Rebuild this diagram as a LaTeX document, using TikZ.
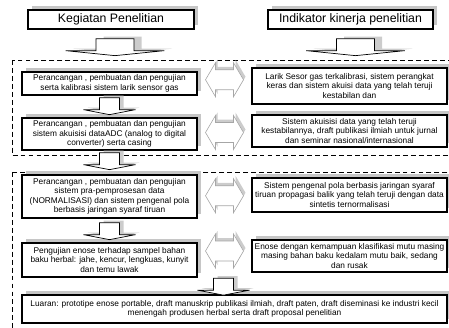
\documentclass[tikz,border=0pt]{standalone}
\usepackage{fontspec}
\setmainfont{Liberation Sans}
\usetikzlibrary{calc,shadows}

\tikzset{
  kotak/.style={draw,line width=1.1pt,fill=white,align=center,inner sep=1pt,
    drop shadow={shadow xshift=3.4pt,shadow yshift=3.4pt,fill=gray!45,opacity=1},
    font=\fontsize{7.1}{8}\selectfont},
  judul/.style={kotak,font=\fontsize{10.5}{12}\selectfont},
  grup/.style={draw,dash pattern=on 4.2pt off 2.6pt,line width=0.85pt},
  panahbawah/.pic={
    \fill[gray!40,shift={(4,-2)}] (-10,0) -- (-10,12) -- (-26,12) -- (0,17) -- (26,12) -- (10,12) -- (10,0) -- cycle;
    \draw[fill=white,line width=0.6pt] (-10,0) -- (-10,12) -- (-26,12) -- (0,17) -- (26,12) -- (10,12) -- (10,0) -- cycle;
  },
  panahdua/.pic={
    \fill[gray!40,shift={(2,-3)}] (-19,0) -- (-9,-17) -- (-9,-10) -- (9,-10) -- (9,-17) -- (19,0) -- (9,17) -- (9,10) -- (-9,10) -- (-9,17) -- cycle;
    \draw[gray!70,fill=white,line width=0.5pt] (-19,0) -- (-9,-17) -- (-9,-10) -- (9,-10) -- (9,-17) -- (19,0) -- (9,17) -- (9,10) -- (-9,10) -- (-9,17) -- cycle;
  }
}

\begin{document}
\begin{tikzpicture}[x=0.03cm,y=-0.03cm]
\useasboundingbox (0,0) rectangle (449,327);
\clip (0,0) rectangle (449,327);

% kelompok tahap
\draw[grup] (12,60) rectangle (460,155);
\draw[grup] (12,172) rectangle (460,340);

% judul kolom
\node[judul,minimum width=4.98cm,minimum height=0.57cm] (hkiri) at (111,19.5) {Kegiatan Penelitian};
\node[judul,minimum width=4.95cm,minimum height=0.57cm] (hkanan) at (350.5,19.5) {Indikator kinerja penelitian};

% kegiatan
\node[kotak,minimum width=5.25cm,minimum height=0.69cm] (a1) at (109.5,83.5) {Perancangan , pembuatan dan pengujian\\ serta kalibrasi sistem larik  sensor gas};
\node[kotak,minimum width=5.25cm,minimum height=0.96cm] (a2) at (109.5,134) {Perancangan , pembuatan dan pengujian\\ sistem akuisisi dataADC (analog to digital\\ converter) serta casing};
\node[kotak,minimum width=5.25cm,minimum height=1.29cm] (a3) at (109.5,196.5) {Perancangan , pembuatan dan pengujian\\ sistem pra-pemprosesan data\\ (NORMALISASI) dan sistem pengenal pola\\ berbasis jaringan syaraf tiruan};
\node[kotak,minimum width=5.25cm,minimum height=1.02cm] (a4) at (109.5,260) {Pengujian enose terhadap sampel bahan\\ baku herbal: jahe, kencur, lengkuas, kunyit\\ dan temu lawak};

% indikator
\node[kotak,minimum width=5.85cm,minimum height=1.08cm] (b1) at (349.5,86) {Larik Sesor gas terkalibrasi, sistem perangkat\\ keras dan sistem akuisi data yang telah teruji\\ kestabilan dan};
\node[kotak,minimum width=5.85cm,minimum height=0.96cm] (b2) at (349.5,131) {Sistem akuisisi data yang  telah teruji\\ kestabilannya, draft publikasi ilmiah untuk jurnal\\ dan seminar nasional/internasional};
\node[kotak,minimum width=5.85cm,minimum height=1.02cm] (b3) at (349.5,195) {Sistem pengenal pola berbasis jaringan syaraf\\ tiruan propagasi balik yang telah teruji dengan data\\ sintetis ternormalisasi};
\node[kotak,minimum width=5.85cm,minimum height=0.96cm] (b4) at (349.5,256) {Enose dengan kemampuan klasifikasi mutu masing\\ masing bahan baku  kedalam mutu baik, sedang\\ dan rusak};

\node[kotak,minimum width=12.75cm,minimum height=0.84cm] (luaran) at (234.5,309) {Luaran: prototipe enose portable, draft manuskrip publikasi ilmiah,  draft paten, draft diseminasi ke industri kecil\\ menengah produsen herbal  serta draft  proposal penelitian};

% panah
\pic[xscale=1.9] at ($(hkiri.south)+(4,9)$) {panahbawah};
\pic[xscale=1.9] at ($(hkanan.south)+(5,9)$) {panahbawah};
\pic at ($(a1.south)+(0,2)$) {panahbawah};
\pic at ($(a2.south)+(0,2)$) {panahbawah};
\pic at ($(a3.south)+(0,4)$) {panahbawah};
\pic at ($(a4.south)!.5!(b4.south)+(-6,3)$) {panahbawah};
\foreach \i/\dy in {1/-5,2/0,3/0,4/-7}
  \pic at ($(a\i.east)!.5!(b\i.west)+(0,\dy)$) {panahdua};
\end{tikzpicture}
\end{document}
